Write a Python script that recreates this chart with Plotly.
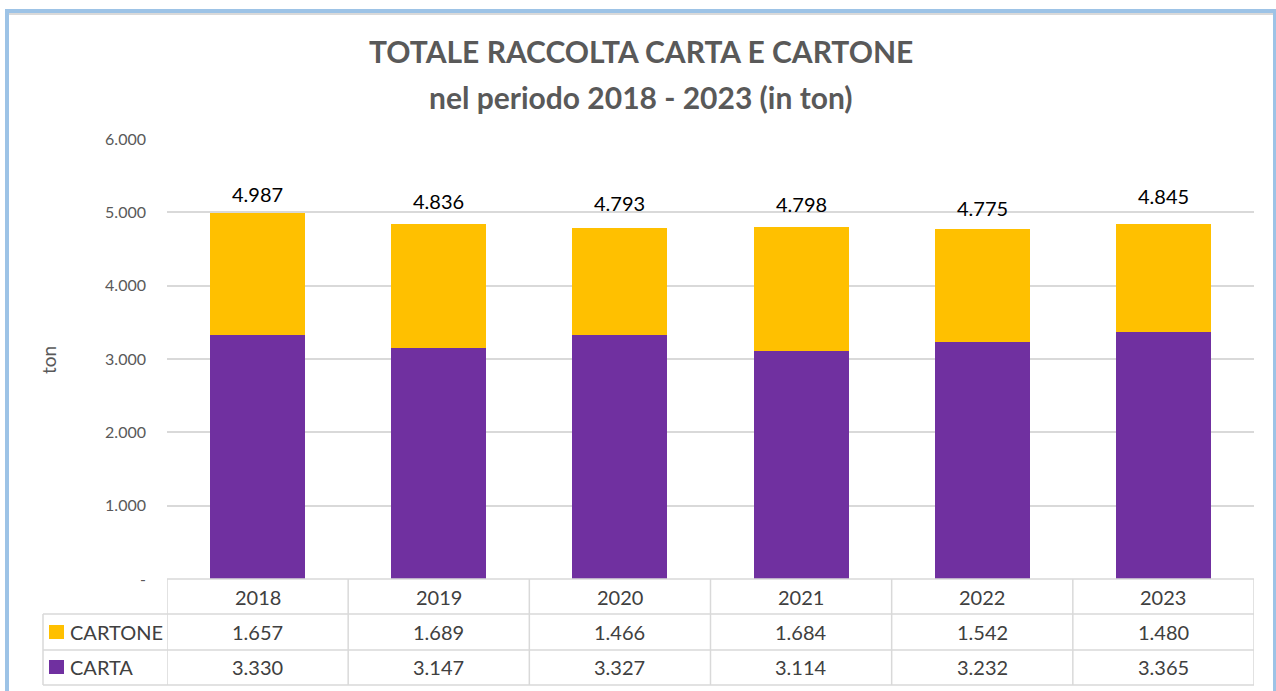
import plotly.graph_objects as go

years = ["2018", "2019", "2020", "2021", "2022", "2023"]
cartone = [1657, 1689, 1466, 1684, 1542, 1480]
carta = [3330, 3147, 3327, 3114, 3232, 3365]
totals = [4987, 4836, 4793, 4798, 4775, 4845]
y_ticks = [0, 1000, 2000, 3000, 4000, 5000, 6000]
y_tick_text = ["-", "1.000", "2.000", "3.000", "4.000", "5.000", "6.000"]

COL_CARTONE = "#FFC000"
COL_CARTA = "#7030A0"
GRAY = "#595959"
TXT = "#404040"
LINE = "#D9D9D9"
FONT = "Lato"

def fmt(v):
    return f"{v:,}".replace(",", ".")

W, H = 1276, 691
L, R, T, B = 167, 22, 139, 112
PW, PH = W - L - R, H - T - B

def px(xp):
    return (xp - L) / PW

def py(yp):
    return (H - B - yp) / PH

xs = list(range(len(years)))
fig = go.Figure()
fig.add_bar(x=xs, y=carta, name="CARTA", marker=dict(color=COL_CARTA, line=dict(width=0)))
fig.add_bar(x=xs, y=cartone, name="CARTONE", marker=dict(color=COL_CARTONE, line=dict(width=0)))

annotations = []
shapes = []
label_shift = [19, 23.5, 25, 23, 21, 28]
for i, t in enumerate(totals):
    annotations.append(dict(x=i, y=t, xref="x", yref="y", text=fmt(t), showarrow=False,
                            xanchor="center", yanchor="middle",
                            yshift=label_shift[i], font=dict(family=FONT, size=20, color="#000000")))

# table rows (pixel y positions)
y_hdr_top, y_r1, y_r2, y_bot = 579, 614, 650, 685
c_hdr, c_r1, c_r2 = 597, 632, 667
for i, yr in enumerate(years):
    for txt, cy in [(yr, c_hdr), (fmt(cartone[i]), c_r1), (fmt(carta[i]), c_r2)]:
        annotations.append(dict(x=i, y=py(cy), xref="x", yref="paper", text=txt, showarrow=False,
                                xanchor="center", yanchor="middle",
                                font=dict(family=FONT, size=20, color=TXT)))

# row labels with swatches
for name, col, cy in [("CARTONE", COL_CARTONE, c_r1), ("CARTA", COL_CARTA, c_r2)]:
    shapes.append(dict(type="rect", xref="paper", yref="paper", x0=px(49), x1=px(64),
                       y0=py(cy + 7), y1=py(cy - 7), fillcolor=col, line=dict(width=0)))
    annotations.append(dict(x=px(68), y=py(cy), xref="paper", yref="paper", text=name, showarrow=False,
                            xanchor="left", yanchor="middle", font=dict(family=FONT, size=20, color=TXT)))

# table grid lines
for yl, x0 in [(y_hdr_top, px(L)), (y_r1, px(43)), (y_r2, px(43)), (y_bot, px(43))]:
    shapes.append(dict(type="line", xref="paper", yref="paper", x0=x0, x1=1, y0=py(yl), y1=py(yl),
                       line=dict(color=LINE, width=1.5)))
for k in range(len(years) + 1):
    shapes.append(dict(type="line", xref="x", yref="paper", x0=k - 0.5, x1=k - 0.5,
                       y0=py(y_hdr_top), y1=py(y_bot), line=dict(color=LINE, width=1.5)))
shapes.append(dict(type="line", xref="paper", yref="paper", x0=px(43), x1=px(43),
                   y0=py(y_r1), y1=py(y_bot), line=dict(color=LINE, width=1.5)))

# chart frame
shapes.append(dict(type="rect", xref="paper", yref="paper", x0=px(7), x1=px(1275),
                   y0=py(720), y1=py(11), line=dict(color="#9DC3E6", width=4), layer="below"))
shapes.append(dict(type="line", xref="paper", yref="paper", x0=px(9), x1=px(1273),
                   y0=py(14), y1=py(14), line=dict(color=LINE, width=2)))

annotations.append(dict(x=px(48), y=py(360), xref="paper", yref="paper", text="ton", showarrow=False,
                        xanchor="center", yanchor="middle",
                        textangle=-90, font=dict(family=FONT, size=19, color=GRAY)))
for line_txt, cy in [("TOTALE RACCOLTA CARTA E CARTONE", 51), ("nel periodo 2018 - 2023 (in ton)", 97)]:
    annotations.append(dict(x=px(641), y=py(cy), xref="paper", yref="paper",
                            text=f"<b>{line_txt}</b>",
                            showarrow=False, xanchor="center", yanchor="middle",
                            font=dict(family=FONT, size=30, color=GRAY)))

fig.update_layout(
    width=W, height=H, barmode="stack", bargap=0.475,
    margin=dict(l=L, r=R, t=T, b=B),
    paper_bgcolor="white", plot_bgcolor="white",
    showlegend=False,
    xaxis=dict(range=[-0.5, 5.5], showticklabels=False, showgrid=False, zeroline=False,
               showline=False, ticks="", fixedrange=True),
    yaxis=dict(range=[0, 6000], tickvals=y_ticks, ticktext=y_tick_text, showgrid=True,
               gridcolor=LINE, gridwidth=1.5, zeroline=False, showline=False,
               tickfont=dict(family=FONT, size=16, color=GRAY), ticklabelstandoff=20),
    annotations=annotations, shapes=shapes,
)
fig.write_html("out.html", config={"displayModeBar": False},
               post_script="document.body.style.margin='0';document.body.style.overflow='hidden';")
